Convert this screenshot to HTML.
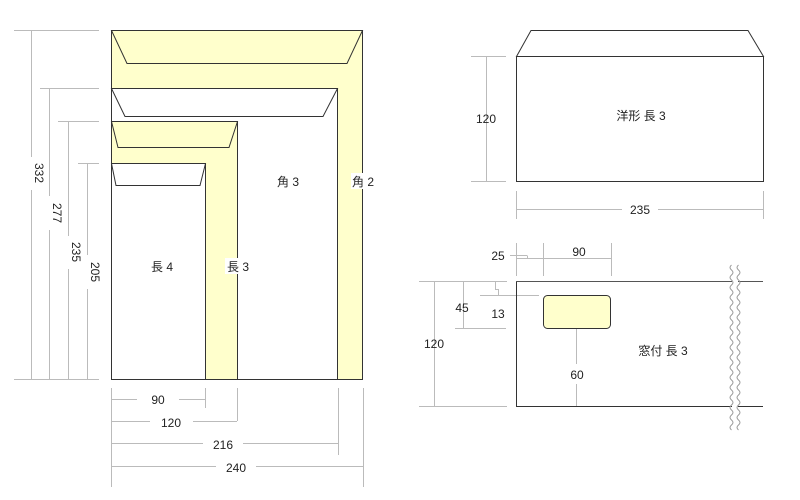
<!DOCTYPE html>
<html><head><meta charset="utf-8"><style>
html,body{margin:0;padding:0;background:#fff;}
svg{display:block;}
text{font-family:"Liberation Sans","Noto Sans CJK JP",sans-serif;font-size:12px;fill:#222;}
</style></head><body>
<svg width="800" height="500" viewBox="0 0 800 500" xmlns="http://www.w3.org/2000/svg">
<g stroke="#bbb" stroke-width="1" fill="none">
<line x1="14" y1="30.5" x2="99" y2="30.5"/>
<line x1="40" y1="88.5" x2="99" y2="88.5"/>
<line x1="58" y1="121.5" x2="99" y2="121.5"/>
<line x1="78" y1="163.5" x2="99" y2="163.5"/>
<line x1="14" y1="379.5" x2="99" y2="379.5"/>
<line x1="31.5" y1="30" x2="31.5" y2="157"/><line x1="31.5" y1="190" x2="31.5" y2="379"/>
<line x1="49.5" y1="88" x2="49.5" y2="196"/><line x1="49.5" y1="230" x2="49.5" y2="379"/>
<line x1="68.5" y1="121" x2="68.5" y2="236"/><line x1="68.5" y1="269" x2="68.5" y2="379"/>
<line x1="87.5" y1="163" x2="87.5" y2="255"/><line x1="87.5" y1="289" x2="87.5" y2="379"/>
<line x1="111.5" y1="388" x2="111.5" y2="487"/>
<line x1="205.5" y1="388" x2="205.5" y2="408"/>
<line x1="237.5" y1="388" x2="237.5" y2="421"/>
<line x1="338.5" y1="388" x2="338.5" y2="455"/>
<line x1="363.5" y1="388" x2="363.5" y2="487"/>
<line x1="111" y1="399.5" x2="137" y2="399.5"/><line x1="179" y1="399.5" x2="205" y2="399.5"/>
<line x1="111" y1="421.5" x2="150" y2="421.5"/><line x1="193" y1="421.5" x2="237" y2="421.5"/>
<line x1="111" y1="443.5" x2="203" y2="443.5"/><line x1="243" y1="443.5" x2="338" y2="443.5"/>
<line x1="111" y1="466.5" x2="216" y2="466.5"/><line x1="256" y1="466.5" x2="363" y2="466.5"/>
<line x1="471" y1="56.5" x2="506" y2="56.5"/><line x1="471" y1="181.5" x2="506" y2="181.5"/>
<line x1="486.5" y1="56" x2="486.5" y2="181"/>
<line x1="516.5" y1="191" x2="516.5" y2="219"/><line x1="763.5" y1="191" x2="763.5" y2="219"/>
<line x1="516" y1="209.5" x2="622" y2="209.5"/><line x1="658" y1="209.5" x2="763" y2="209.5"/>
<line x1="419" y1="281.5" x2="507" y2="281.5"/><line x1="419" y1="406.5" x2="507" y2="406.5"/>
<line x1="434.5" y1="281" x2="434.5" y2="406"/>
<line x1="455" y1="328.5" x2="506" y2="328.5"/>
<line x1="463.5" y1="281" x2="463.5" y2="328"/>
<line x1="495.5" y1="281" x2="495.5" y2="290"/>
<line x1="480" y1="295.5" x2="539" y2="295.5"/>
<polyline points="495.5,289 495.5,289.5 498.5,289.5 498.5,295"/>
<line x1="516.5" y1="243" x2="516.5" y2="276"/>
<line x1="543.5" y1="243" x2="543.5" y2="276"/>
<line x1="611.5" y1="243" x2="611.5" y2="276"/>
<line x1="510" y1="255.5" x2="527" y2="255.5"/>
<polyline points="527.5,255.5 527.5,258.5"/>
<line x1="516" y1="258.5" x2="611" y2="258.5"/>
<line x1="576.5" y1="328" x2="576.5" y2="364"/><line x1="576.5" y1="384" x2="576.5" y2="406"/>
</g>
<g stroke="#333" stroke-width="1">
<rect x="111.5" y="30.5" width="251" height="349" fill="#ffffcc"/>
<polygon points="111.5,30.5 127,63.5 347,63.5 362.5,30.5" fill="#ffffcc"/>
<rect x="111.5" y="88.5" width="226" height="291" fill="#fff"/>
<polygon points="111.5,88.5 125,116.5 323,116.5 337.5,88.5" fill="#fff"/>
<rect x="111.5" y="121.5" width="126" height="258" fill="#ffffcc"/>
<polygon points="111.5,121.5 118,147.5 229,147.5 237.5,121.5" fill="#ffffcc"/>
<rect x="111.5" y="163.5" width="94" height="216" fill="#fff"/>
<polygon points="111.5,163.5 116,185.5 200,185.5 205.5,163.5" fill="#fff"/>
<polygon points="516.5,56.5 531,30.5 748,30.5 763.5,56.5" fill="#fff"/>
<rect x="516.5" y="56.5" width="247" height="125" fill="#fff"/>
<line x1="516.5" y1="281" x2="516.5" y2="406" />
<line x1="516" y1="281.5" x2="763" y2="281.5" stroke="#555"/>
<line x1="516" y1="406.5" x2="763" y2="406.5"/>
<rect x="543.5" y="295.5" width="67" height="33" rx="4" fill="#ffffcc"/>
</g>
<rect x="732" y="265" width="6" height="166" fill="#fff"/>
<g stroke="#999" fill="none" stroke-width="1">
<path d="M731.5,265 q-3,2.5 0,5 t0,5 t0,5 t0,5 t0,5 t0,5 t0,5 t0,5 t0,5 t0,5 t0,5 t0,5 t0,5 t0,5 t0,5 t0,5 t0,5 t0,5 t0,5 t0,5 t0,5 t0,5 t0,5 t0,5 t0,5 t0,5 t0,5 t0,5 t0,5 t0,5 t0,5 t0,5 t0,5"/>
<path d="M738.5,265 q-3,2.5 0,5 t0,5 t0,5 t0,5 t0,5 t0,5 t0,5 t0,5 t0,5 t0,5 t0,5 t0,5 t0,5 t0,5 t0,5 t0,5 t0,5 t0,5 t0,5 t0,5 t0,5 t0,5 t0,5 t0,5 t0,5 t0,5 t0,5 t0,5 t0,5 t0,5 t0,5 t0,5 t0,5"/>
</g>
<rect x="225" y="258" width="13" height="16" fill="#fff"/>
<rect x="351" y="173" width="12" height="16" fill="#fff"/>
<g text-anchor="middle">
<text x="162" y="271">長 4</text>
<text x="238" y="271">長 3</text>
<text x="288" y="186">角 3</text>
<text x="363" y="186">角 2</text>
<text transform="translate(35,173) rotate(90)">332</text>
<text transform="translate(53,213) rotate(90)">277</text>
<text transform="translate(72,252) rotate(90)">235</text>
<text transform="translate(91,272) rotate(90)">205</text>
<text x="158" y="404">90</text>
<text x="171" y="427">120</text>
<text x="223" y="449">216</text>
<text x="236" y="472">240</text>
<text x="641" y="120">洋形 長 3</text>
<text x="486" y="123">120</text>
<text x="640" y="214">235</text>
<text x="498" y="260">25</text>
<text x="579" y="256">90</text>
<text x="462" y="312">45</text>
<text x="498" y="318">13</text>
<text x="434" y="348">120</text>
<text x="577" y="379">60</text>
<text x="663" y="355">窓付 長 3</text>
</g>
</svg>
</body></html>
